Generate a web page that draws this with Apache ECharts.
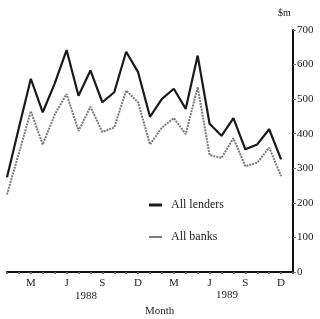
<!DOCTYPE html>
<html>
<head>
<meta charset="utf-8">
<script src="https://cdn.jsdelivr.net/npm/echarts@6/dist/echarts.min.js"></script>
<style>
  html, body { margin: 0; padding: 0; background: #fff; }
  #main { width: 320px; height: 319px; }
</style>
</head>
<body>
<div id="main"></div>
<script>
// months Jan 1988 .. Dec 1989
var months = ['Jan', 'Feb', 'Mar', 'Apr', 'May', 'Jun', 'Jul', 'Aug', 'Sep', 'Oct', 'Nov', 'Dec',
              'Jan', 'Feb', 'Mar', 'Apr', 'May', 'Jun', 'Jul', 'Aug', 'Sep', 'Oct', 'Nov', 'Dec'];
var monthLabels = { 2: 'M', 5: 'J', 8: 'S', 11: 'D', 14: 'M', 17: 'J', 20: 'S', 23: 'D' };
var allLenders = [274, 417, 559, 462, 545, 642, 510, 583, 491, 520, 637, 578,
                  449, 501, 530, 472, 626, 429, 394, 445, 355, 369, 413, 326];
var allBanks = [224, 344, 465, 369, 455, 515, 408, 478, 405, 418, 525, 491,
                369, 418, 445, 399, 535, 338, 330, 387, 306, 316, 360, 277];
var yTicks = [0, 100, 200, 300, 400, 500, 600, 700];

var serif = '"Liberation Serif", "DejaVu Serif", serif';

function pairs(arr) {
    var out = [];
    for (var i = 0; i < arr.length; i++) out.push([i, arr[i]]);
    return out;
}

var myChart = echarts.init(document.getElementById('main'));
var option = {
    backgroundColor: '#ffffff',
    animation: false,
    grid: { left: 7, right: 27, top: 30, bottom: 47 },
    legend: {
        orient: 'vertical',
        left: 144,
        top: 194,
        itemWidth: 13,
        itemHeight: 3,
        itemGap: 20,
        textStyle: { fontFamily: serif, fontSize: 12, color: '#222', padding: [0, 0, 0, 4] },
        data: [
            { name: 'All lenders', icon: 'path://M0 0H13V3H0Z' },
            { name: 'All banks', icon: 'path://M0 0H13V2H0Z' }
        ]
    },
    xAxis: {
        type: 'value',
        min: 0,
        max: 24,
        interval: 1,
        splitLine: { show: false },
        axisLine: { onZero: false, lineStyle: { color: '#111', width: 2 } },
        axisTick: { length: 2, lineStyle: { color: '#666', width: 2 } },
        axisLabel: {
            fontFamily: serif, fontSize: 11, color: '#222', margin: 6,
            formatter: function (v) { return monthLabels[v] || ''; }
        }
    },
    yAxis: {
        type: 'value',
        position: 'right',
        min: 0,
        max: 700,
        interval: 100,
        splitLine: { show: false },
        axisLine: { show: true, onZero: false, lineStyle: { color: '#111', width: 2 } },
        axisTick: { show: true, inside: false, length: 3, lineStyle: { color: '#777' } },
        axisLabel: {
            fontFamily: serif, fontSize: 11, color: '#222', margin: 4,
            formatter: function (v) { return yTicks.indexOf(v) >= 0 ? String(v) : ''; }
        }
    },
    graphic: [
        { type: 'text', left: 278, top: 8, style: { text: '$m', font: '10px ' + serif, fill: '#222' } },
        { type: 'text', left: 75, top: 291, style: { text: '1988', font: '11px ' + serif, fill: '#222' } },
        { type: 'text', left: 216, top: 290, style: { text: '1989', font: '11px ' + serif, fill: '#222' } },
        { type: 'text', left: 145, top: 306, style: { text: 'Month', font: '11px ' + serif, fill: '#222' } }
    ],
    series: [
        {
            name: 'All lenders',
            type: 'line',
            symbol: 'none',
            data: pairs(allLenders),
            lineStyle: { color: '#1a1a1a', width: 2.2 },
            itemStyle: { color: '#1a1a1a' }
        },
        {
            name: 'All banks',
            type: 'line',
            symbol: 'none',
            data: pairs(allBanks),
            lineStyle: { color: '#7a7a7a', width: 2, type: [2, 1] },
            itemStyle: { color: '#7a7a7a' }
        }
    ]
};
myChart.setOption(option);
</script>
</body>
</html>
